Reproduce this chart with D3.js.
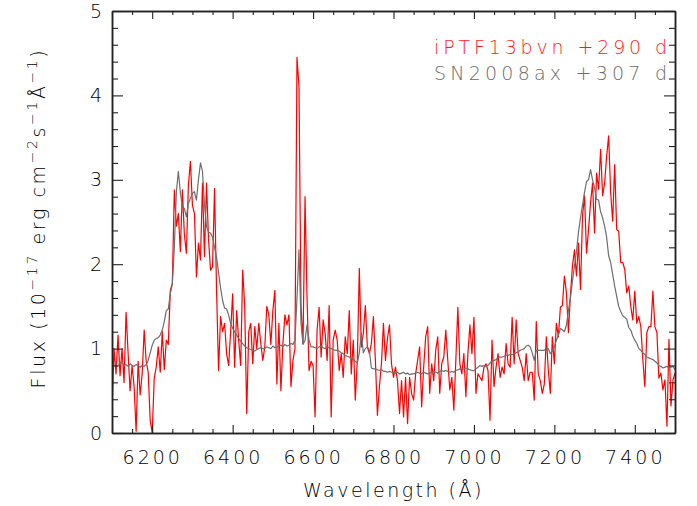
<!DOCTYPE html>
<html>
<head>
<meta charset="utf-8">
<script src="https://cdn.jsdelivr.net/npm/d3@7"></script>
<style>
  body { margin: 0; background: #fff; }
  svg text { font-family: "DejaVu Sans", sans-serif; font-weight: 200; fill: #000; }
</style>
</head>
<body>
<div id="chart"></div>
<script>
// late-time spectra, iPTF13bvn vs SN2008ax, flux in 1e-17 erg/cm2/s/A
// both spectra sampled on the same grid: 6100 A, 5 A per pixel
const waveStart = 6100;
const waveStep = 5;

// iPTF13bvn +290 d (red), one row = 50 A
const iptfFlux = [
  0.25, 1.0, 0.7, 1.16, 0.68, 1.0, 0.6, 1.43, 0.95, 0.5,      // 6100
  0.8, 0.55, 0.02, 0.85, 0.45, 0.7, 1.22, 0.85, 0.72, 0.15,   // 6150
  0.0, 0.65, 0.78, 1.02, 0.72, 1.2, 0.75, 1.1, 1.05, 1.69,    // 6200
  1.77, 2.88, 2.45, 2.6, 2.15, 2.88, 2.35, 2.13, 2.94, 3.22,  // 6250
  2.7, 2.6, 1.85, 2.25, 2.05, 2.96, 2.09, 2.96, 2.3, 1.93,    // 6300
  1.97, 2.9, 1.69, 0.74, 1.38, 1.2, 1.3, 0.94, 0.8, 1.2,      // 6350
  1.65, 0.78, 1.45, 1.1, 0.8, 1.93, 1.5, 0.23, 1.2, 1.3,      // 6400
  0.82, 1.26, 1.0, 1.3, 1.06, 0.86, 1.02, 1.5, 1.4, 1.05,     // 6450
  1.45, 1.69, 0.58, 1.3, 0.5, 1.06, 1.4, 1.28, 1.4, 0.55,     // 6500
  0.86, 1.0, 4.45, 4.1, 1.5, 1.06, 2.8, 1.6, 0.74, 0.85,      // 6550
  0.8, 0.19, 1.22, 1.49, 0.9, 1.34, 1.18, 0.86, 1.51, 0.19,   // 6600
  1.1, 1.22, 1.1, 0.74, 0.94, 0.66, 1.14, 0.94, 1.45, 0.7,    // 6650
  1.1, 0.39, 0.86, 1.95, 1.02, 1.18, 1.51, 1.02, 0.94, 1.06,  // 6700
  1.38, 0.86, 0.21, 0.55, 0.82, 1.3, 0.86, 1.12, 1.28, 0.82,  // 6750
  0.66, 0.78, 0.62, 0.23, 0.62, 0.19, 0.66, 0.11, 0.66, 0.47, // 6800
  0.39, 0.7, 0.86, 1.02, 0.31, 0.78, 1.14, 1.26, 0.47, 0.82,  // 6850
  0.62, 0.98, 1.14, 0.47, 0.82, 0.9, 1.22, 0.86, 0.51, 0.66,  // 6900
  0.27, 0.86, 1.49, 0.82, 0.7, 0.94, 0.43, 0.94, 1.28, 0.94,  // 6950
  1.37, 0.47, 0.7, 0.66, 0.62, 0.78, 0.82, 0.74, 0.15, 1.1,   // 7000
  0.55, 0.78, 0.94, 0.66, 0.78, 0.7, 1.06, 0.82, 0.78, 1.37,  // 7050
  0.82, 1.34, 0.94, 0.86, 0.78, 0.62, 0.94, 0.62, 0.72, 0.72, // 7100
  0.39, 1.32, 0.7, 0.62, 0.47, 0.58, 1.14, 0.74, 0.47, 1.14,  // 7150
  0.82, 1.3, 1.14, 1.49, 1.51, 1.86, 1.66, 1.19, 1.64, 1.98,  // 7200
  2.17, 1.86, 2.25, 1.7, 2.57, 2.81, 2.13, 2.41, 2.73, 2.96,  // 7250
  2.37, 3.08, 2.89, 3.36, 2.81, 2.96, 3.28, 3.52, 2.85, 2.51, // 7300
  3.18, 2.41, 2.39, 2.02, 2.02, 1.94, 1.66, 1.74, 1.5, 1.34,  // 7350
  1.68, 1.3, 1.38, 1.26, 0.87, 0.55, 1.19, 1.26, 1.26, 1.68,  // 7400
  1.26, 1.19, 0.65, 0.71, 0.51, 0.63, 0.08, 1.11, 0.32, 0.63, // 7450
  0.71                                                         // 7500
];

// SN2008ax +307 d (grey), same grid
const sn08axFlux = [
  0.78, 0.8, 0.81, 0.79, 0.84, 0.83, 0.8, 0.81, 0.79, 0.82,   // 6100
  0.8, 0.79, 0.81, 0.8, 0.78, 0.8, 0.79, 0.81, 0.86, 0.95,    // 6150
  1.04, 1.1, 1.12, 1.13, 1.16, 1.22, 1.32, 1.45, 1.47, 1.65,  // 6200
  1.76, 2.2, 2.85, 3.1, 2.85, 2.68, 2.66, 2.56, 2.72, 2.78,   // 6250
  2.84, 2.86, 2.76, 3.0, 3.2, 3.1, 2.7, 2.45, 2.38, 2.37,     // 6300
  2.32, 2.2, 2.08, 1.9, 1.72, 1.57, 1.48, 1.47, 1.4, 1.3,     // 6350
  1.24, 1.2, 1.16, 1.12, 1.09, 1.06, 1.03, 1.01, 1.0, 0.99,   // 6400
  0.98, 0.97, 0.99, 1.0, 1.01, 1.0, 1.0, 1.02, 1.01, 1.0,     // 6450
  1.03, 1.01, 1.02, 1.03, 1.04, 1.02, 1.05, 1.03, 1.04, 1.06, // 6500
  1.05, 1.1, 1.6, 2.17, 1.3, 1.05, 1.1, 1.28, 1.1, 1.02,      // 6550
  1.02, 1.01, 1.0, 1.02, 1.03, 1.01, 1.0, 1.02, 1.01, 1.0,    // 6600
  0.99, 0.98, 0.98, 0.97, 0.95, 0.94, 0.92, 0.91, 0.9, 0.88,  // 6650
  0.87, 0.85, 0.83, 0.95, 1.18, 0.95, 1.0, 1.02, 0.98, 0.77,  // 6700
  0.76, 0.76, 0.75, 0.74, 0.75, 0.73, 0.73, 0.72, 0.73, 0.72, // 6750
  0.72, 0.71, 0.72, 0.7, 0.71, 0.72, 0.7, 0.71, 0.69, 0.7,    // 6800
  0.7, 0.71, 0.72, 0.71, 0.7, 0.72, 0.71, 0.7, 0.71, 0.72,    // 6850
  0.73, 0.72, 0.71, 0.73, 0.74, 0.73, 0.74, 0.73, 0.72, 0.73, // 6900
  0.72, 0.74, 0.75, 0.76, 0.75, 0.76, 0.77, 0.76, 0.75, 0.74, // 6950
  0.74, 0.76, 0.78, 0.8, 0.79, 0.8, 0.79, 0.8, 0.83, 0.85,    // 7000
  0.86, 0.87, 0.89, 0.9, 0.9, 0.91, 0.92, 0.92, 0.93, 0.93,   // 7050
  0.94, 0.95, 0.96, 0.98, 0.99, 1.0, 1.03, 1.04, 1.02, 0.95,  // 7100
  0.86, 0.98, 0.98, 0.98, 0.98, 0.98, 1.0, 1.0, 0.94, 0.97,   // 7150
  1.02, 1.1, 1.16, 1.24, 1.22, 1.2, 1.28, 1.45, 1.6, 1.8,     // 7200
  1.98, 2.15, 2.38, 2.55, 2.7, 2.85, 2.98, 3.0, 3.12, 3.0,    // 7250
  2.9, 2.77, 2.76, 2.62, 2.55, 2.45, 2.32, 2.1, 2.02, 1.88,   // 7300
  1.74, 1.62, 1.5, 1.44, 1.39, 1.37, 1.35, 1.25, 1.22, 1.15,  // 7350
  1.1, 1.06, 1.0, 0.98, 0.95, 0.93, 0.9, 0.89, 0.88, 0.87,    // 7400
  0.85, 0.83, 0.8, 0.79, 0.77, 0.78, 0.79, 0.77, 0.78, 0.79,  // 7450
  0.75                                                         // 7500
];

const xMajorTicks = [6200, 6400, 6600, 6800, 7000, 7200, 7400];
const yMajorTicks = [0, 1, 2, 3, 4, 5];
const legendLabels = ["iPTF13bvn +290 d", "SN2008ax +307 d"];
const seriesColors = ["#ff0000", "#6e6e6e"];
const legendColors = ["#ff1a1a", "#6a6a6a"];

const W = 697, H = 506;
const margin = {left: 112, right: 22, top: 11, bottom: 73};

const x = d3.scaleLinear().domain([6100, 7500]).range([margin.left, W - margin.right]);
const y = d3.scaleLinear().domain([0, 5]).range([H - margin.bottom, margin.top]);

const toPoints = arr => arr.map((f, i) => ({w: waveStart + i * waveStep, f: f}));

var svg = d3.select('#chart').append('svg')
  .attr('width', W)
  .attr('height', H);

svg.append('clipPath').attr('id', 'plot-clip')
  .append('rect')
  .attr('x', x(6100)).attr('y', y(5))
  .attr('width', x(7500) - x(6100)).attr('height', y(0) - y(5));

// spectra (grey drawn last, it sits on top in the original)
var line = d3.line().x(d => x(d.w)).y(d => y(d.f));
var lines = svg.append('g').attr('clip-path', 'url(#plot-clip)');
[iptfFlux, sn08axFlux].forEach((arr, i) => {
  lines.append('path')
    .datum(toPoints(arr))
    .attr('fill', 'none')
    .attr('stroke', seriesColors[i])
    .attr('stroke-width', 1.2)
    .attr('stroke-linejoin', 'round')
    .attr('d', line);
});

// axes, IDL style: ticks point inwards on all four sides
const xMinor = d3.range(6100, 7501, 50).filter(v => xMajorTicks.indexOf(v) < 0);
const yMinor = d3.range(0, 25).map(i => i * 0.2).filter(v => Math.abs(v - Math.round(v)) > 1e-6);

function styleAxis(g) {
  g.select('.domain').attr('stroke', '#222').attr('stroke-width', 1.5);
  g.selectAll('.tick line').attr('stroke', '#222').attr('stroke-width', 1.1);
  g.selectAll('text').attr('font-size', 19).attr('font-family', null).attr('fill', '#000');
}

var gx = svg.append('g').attr('transform', `translate(0,${y(0)})`)
  .call(d3.axisBottom(x).tickValues(xMajorTicks).tickSize(-8).tickSizeOuter(0)
    .tickPadding(18).tickFormat(d3.format('d')));
styleAxis(gx);
gx.selectAll('text').style('letter-spacing', '3px');

svg.append('g').attr('transform', `translate(0,${y(0)})`)
  .call(d3.axisBottom(x).tickValues(xMinor).tickSize(-4).tickSizeOuter(0).tickFormat(''))
  .call(styleAxis);

svg.append('g').attr('transform', `translate(0,${y(5)})`)
  .call(d3.axisTop(x).tickValues(xMajorTicks).tickSize(-8).tickSizeOuter(0).tickFormat(''))
  .call(styleAxis);
svg.append('g').attr('transform', `translate(0,${y(5)})`)
  .call(d3.axisTop(x).tickValues(xMinor).tickSize(-4).tickSizeOuter(0).tickFormat(''))
  .call(styleAxis);

var gy = svg.append('g').attr('transform', `translate(${x(6100)},0)`)
  .call(d3.axisLeft(y).tickValues(yMajorTicks).tickSize(-11).tickSizeOuter(0)
    .tickPadding(10).tickFormat(d3.format('d')));
styleAxis(gy);
// keep the top label inside the window
gy.selectAll('.tick').filter(d => d === 5).select('text').attr('y', 0);

svg.append('g').attr('transform', `translate(${x(6100)},0)`)
  .call(d3.axisLeft(y).tickValues(yMinor).tickSize(-6).tickSizeOuter(0).tickFormat(''))
  .call(styleAxis);

svg.append('g').attr('transform', `translate(${x(7500)},0)`)
  .call(d3.axisRight(y).tickValues(yMajorTicks).tickSize(-11).tickSizeOuter(0).tickFormat(''))
  .call(styleAxis);
svg.append('g').attr('transform', `translate(${x(7500)},0)`)
  .call(d3.axisRight(y).tickValues(yMinor).tickSize(-6).tickSizeOuter(0).tickFormat(''))
  .call(styleAxis);

// axis titles
svg.append('text')
  .attr('x', (x(6100) + x(7500)) / 2)
  .attr('y', 497)
  .attr('text-anchor', 'middle')
  .attr('font-size', 19)
  .style('letter-spacing', '2.5px')
  .text('Wavelength (Å)');

var yTitle = svg.append('text')
  .attr('transform', `translate(45,${(y(0) + y(5)) / 2 - 4}) rotate(-90)`)
  .attr('text-anchor', 'middle')
  .attr('font-size', 19)
  .style('letter-spacing', '2.6px');
const titleParts = [
  ['Flux (10', false], ['−17', true], [' erg cm', false], ['−2', true],
  ['s', false], ['−1', true], ['Å', false], ['−1', true], [')', false]
];
var raised = false;
titleParts.forEach(p => {
  var dy = null;
  if (p[1] && !raised) dy = -8;
  if (!p[1] && raised) dy = 8;
  raised = p[1];
  yTitle.append('tspan')
    .attr('dy', dy)
    .attr('font-size', p[1] ? 14 : null)
    .text(p[0]);
});

// legend, top right
legendLabels.forEach((lab, i) => {
  svg.append('text')
    .attr('x', 434)
    .attr('y', 54 + i * 26)
    .attr('font-size', 19)
    .attr('textLength', 233)
    .attr('lengthAdjust', 'spacing')
    .style('fill', legendColors[i])
    .text(lab);
});
</script>
</body>
</html>
